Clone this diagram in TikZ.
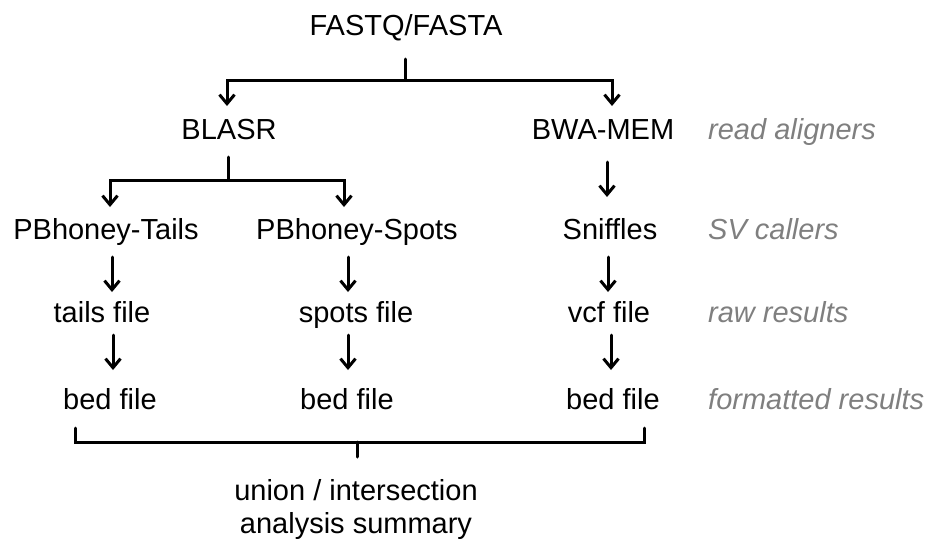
\documentclass[tikz,border=0pt]{standalone}
\usepackage{fontspec}
\setmainfont{Liberation Sans}
\usetikzlibrary{arrows.meta}
\definecolor{lblgray}{HTML}{7F7F7F}
\tikzset{
  lbl/.style={font=\fontsize{29}{33}\selectfont, inner sep=0pt, anchor=base},
  cat/.style={font=\fontsize{29}{33}\selectfont\itshape, text=lblgray, inner sep=0pt, anchor=base west},
  conn/.style={line width=3pt, line cap=round, line join=miter},
  arr/.style={conn, -{Straight Barb[length=9pt, width=15pt, line width=3pt]}}
}
\begin{document}
\begin{tikzpicture}[x=1pt, y=-1pt]
\useasboundingbox (0,0) rectangle (930,544);
% text nodes
\node[lbl] (fastq) at (406,35) {FASTQ/FASTA};
\node[lbl] (blasr) at (229,139) {BLASR};
\node[lbl] (bwa) at (603,139) {BWA-MEM};
\node[lbl] (tails) at (106,239) {PBhoney-Tails};
\node[lbl] (spots) at (357,239) {PBhoney-Spots};
\node[lbl] (sniff) at (610,239) {Sniffles};
\node[lbl] (tfile) at (102,322) {tails file};
\node[lbl] (sfile) at (356,322) {spots file};
\node[lbl] (vfile) at (609,322) {vcf file};
\node[lbl] (bed1) at (110,409) {bed file};
\node[lbl] (bed2) at (347,409) {bed file};
\node[lbl] (bed3) at (613,409) {bed file};
\node[lbl] (union) at (356,500) {union / intersection};
\node[lbl] (summ) at (356,533) {analysis summary};
% category labels
\node[cat] (c1) at (708,139) {read aligners};
\node[cat] (c2) at (708,239) {SV callers};
\node[cat] (c3) at (708,322) {raw results};
\node[cat] (c4) at (708,409) {formatted results};
% top split
\coordinate (fs) at (405,59);
\coordinate (fj) at (405,80);
\coordinate (fl) at (227,80);
\coordinate (fr) at (612,80);
\coordinate (bl) at (227,106);
\coordinate (bw) at (612,106);
\draw[conn] (fs) -- (fj);
\draw[arr] (fj) -- (fl) -- (bl);
\draw[arr] (fj) -- (fr) -- (bw);
% BLASR split
\coordinate (bs) at (228,157);
\coordinate (bj) at (228,180);
\coordinate (bll) at (110,180);
\coordinate (brr) at (344,180);
\coordinate (tl) at (110,207);
\coordinate (sp) at (344,207);
\draw[conn] (bs) -- (bj);
\draw[arr] (bj) -- (bll) -- (tl);
\draw[arr] (bj) -- (brr) -- (sp);
% BWA -> Sniffles
\coordinate (bw1) at (607,162);
\coordinate (bw2) at (607,197);
\draw[arr] (bw1) -- (bw2);
% row 2 -> row 3
\coordinate (a1) at (112,257); \coordinate (a1e) at (112,292);
\coordinate (a2) at (348,257); \coordinate (a2e) at (348,292);
\coordinate (a3) at (608,257); \coordinate (a3e) at (608,292);
\draw[arr] (a1) -- (a1e);
\draw[arr] (a2) -- (a2e);
\draw[arr] (a3) -- (a3e);
% row 3 -> row 4
\coordinate (b1) at (113,335); \coordinate (b1e) at (113,370);
\coordinate (b2) at (348,335); \coordinate (b2e) at (348,370);
\coordinate (b3) at (611,335); \coordinate (b3e) at (611,370);
\draw[arr] (b1) -- (b1e);
\draw[arr] (b2) -- (b2e);
\draw[arr] (b3) -- (b3e);
% bottom bracket
\coordinate (k1) at (75,428);
\coordinate (k2) at (75,442);
\coordinate (k3) at (644,442);
\coordinate (k4) at (644,428);
\coordinate (km) at (357,442);
\coordinate (kb) at (357,457);
\draw[conn] (k1) -- (k2) -- (k3) -- (k4);
\draw[conn] (km) -- (kb);
\end{tikzpicture}
\end{document}
